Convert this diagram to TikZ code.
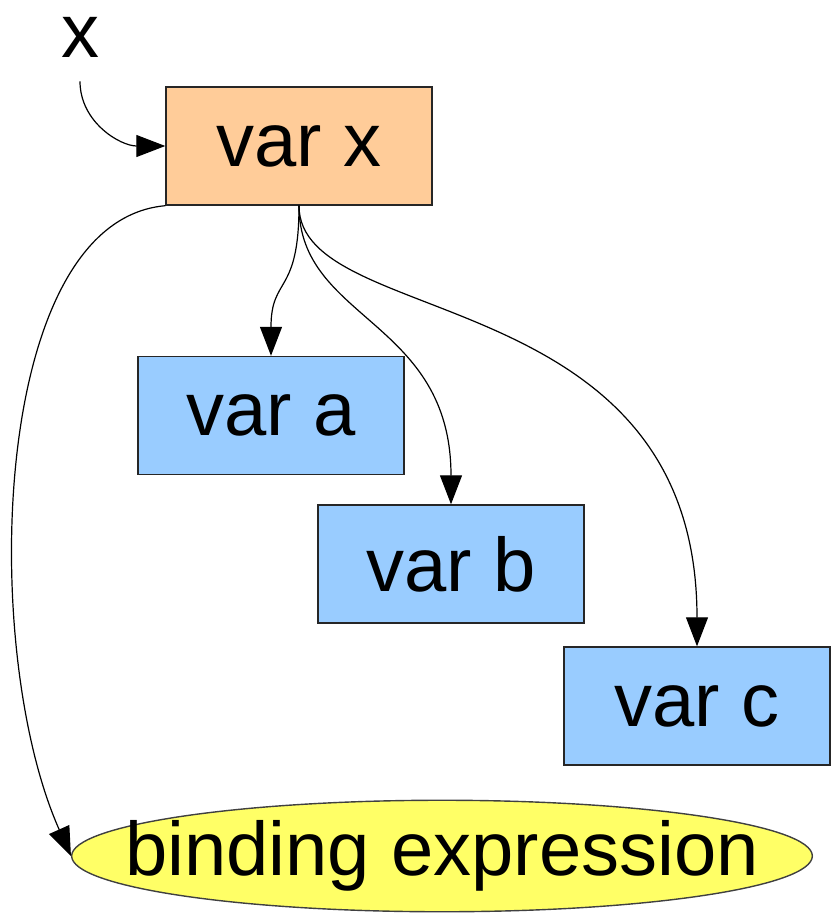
\documentclass[tikz,border=0pt]{standalone}
\usepackage{fontspec}
\setmainfont{Liberation Sans}
\usetikzlibrary{arrows.meta,shapes.geometric}
\definecolor{varorange}{HTML}{FFCC99}
\definecolor{varblue}{HTML}{99CCFF}
\definecolor{bindyellow}{HTML}{FFFF66}
\begin{document}
\begin{tikzpicture}[x=1pt,y=1pt,->,>={Triangle[length=29pt,width=22pt]},
    every node/.style={font=\fontsize{76}{90}\selectfont}]
        \tikzstyle{var}=[rectangle,draw=black!85,line width=1.4pt,minimum width=266pt,minimum height=118pt,inner sep=0pt]
        \tikzstyle{binding}=[ellipse,draw=black!75,line width=1.4pt,fill=bindyellow,inner xsep=-55pt,inner ysep=4pt]
        \tikzstyle{edge}=[line width=1.2pt]
        \useasboundingbox (0,0) rectangle (831,-916);
       \begin{scope}
         \node [inner sep=0pt] (xlab) at (80,-37) {x};
         \node [var,fill=varorange] (varx) at (299,-146) {var x};
         \node [var,fill=varblue] (vara) at (271,-415.5) {var a};
         \node [var,fill=varblue] (varb) at (451,-564) {var b};
         \node [var,fill=varblue] (varc) at (697,-706) {var c};
         \node [binding] (bind) at (442,-856) {binding expression};
         \path[edge] (xlab.south) edge [shorten <=24pt,out=-90,in=180,out distance=65pt,in distance=45pt] (varx.west);
         \path[edge] (varx.south) edge [out=-90,in=90,out distance=90pt,in distance=80pt] (vara.north);
         \path[edge] (varx.south) edge [out=-90,in=90,out distance=115pt,in distance=185pt] (varb.north);
         \path[edge] (varx.south) edge [out=-90,in=90,out distance=125pt,in distance=367pt] (varc.north);
         \path[edge] (varx.south west) edge [out=185,in=114,out distance=176pt,in distance=225pt] (bind.west);
        \end{scope}
      \end{tikzpicture}
\end{document}
